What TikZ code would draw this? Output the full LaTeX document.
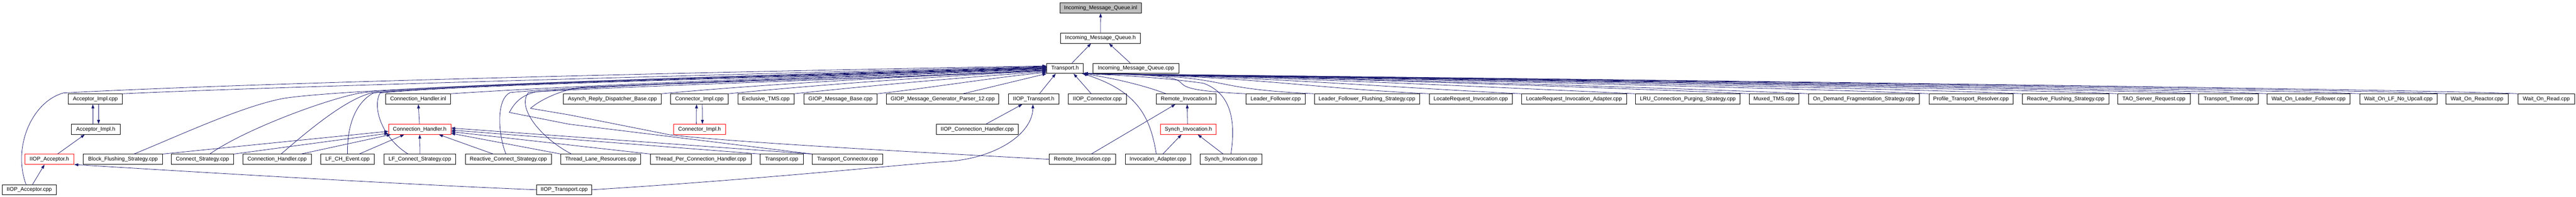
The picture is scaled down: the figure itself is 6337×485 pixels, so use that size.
\documentclass[tikz,border=0pt]{standalone}
\usepackage{fontspec}
\setmainfont{Liberation Sans}
\usetikzlibrary{arrows.meta}
\definecolor{mblue}{HTML}{191970}
\definecolor{boxgray}{HTML}{BFBFBF}
\tikzset{
  box/.style={draw=black, line width=1pt, rectangle, inner sep=0pt, minimum height=25pt,
    font=\fontsize{13.3}{15}\selectfont, fill=white},
  redbox/.style={draw=red},
  graybox/.style={fill=boxgray},
  edge/.style={draw=mblue, line width=1pt, -{Triangle[length=10pt,width=7pt]}},
}
\newcommand{\bx}[6][]{\node[box,#1,minimum width={#4-#3}] (#2) at ({(#3+#4)/2},#5) {#6};}
\begin{document}
\begin{tikzpicture}[x=1pt,y=-1pt]
\fill[white] (0,0) rectangle (6337,485);
\useasboundingbox (0,0) rectangle (6337,485);
% rows 0-2
\bx[graybox]{imqinl}{2607}{2808}{19.7}{Incoming\_Message\_Queue.inl}
\bx{imqh}{2609}{2805}{94}{Incoming\_Message\_Queue.h}
\bx{trh}{2575}{2665}{168.5}{Transport.h}
\bx{imqcpp}{2689}{2900}{168.5}{Incoming\_Message\_Queue.cpp}
% row 3
\bx{acccpp}{168}{301}{244}{Acceptor\_Impl.cpp}
\bx{chinl}{949}{1108}{244}{Connection\_Handler.inl}
\bx{asynch}{1386}{1627}{244}{Asynch\_Reply\_Dispatcher\_Base.cpp}
\bx{conncpp}{1650}{1791}{244}{Connector\_Impl.cpp}
\bx{extms}{1815}{1953}{244}{Exclusive\_TMS.cpp}
\bx{giopbase}{1977}{2158}{244}{GIOP\_Message\_Base.cpp}
\bx{giop12}{2181}{2457}{244}{GIOP\_Message\_Generator\_Parser\_12.cpp}
\bx{iioptrh}{2481}{2605}{244}{IIOP\_Transport.h}
\bx{iiopconn}{2628}{2771}{244}{IIOP\_Connector.cpp}
\bx{remoteinvh}{2845}{2992}{244}{Remote\_Invocation.h}
\bx{lf}{3065}{3211}{244}{Leader\_Follower.cpp}
\bx{lfflush}{3233}{3492}{244}{Leader\_Follower\_Flushing\_Strategy.cpp}
\bx{lri}{3516}{3720}{244}{LocateRequest\_Invocation.cpp}
\bx{lria}{3743}{4001}{244}{LocateRequest\_Invocation\_Adapter.cpp}
\bx{lru}{4023}{4281}{244}{LRU\_Connection\_Purging\_Strategy.cpp}
\bx{muxed}{4303}{4425}{244}{Muxed\_TMS.cpp}
\bx{ondemand}{4449}{4721}{244}{On\_Demand\_Fragmentation\_Strategy.cpp}
\bx{profile}{4745}{4952}{244}{Profile\_Transport\_Resolver.cpp}
\bx{reactflush}{4975}{5188}{244}{Reactive\_Flushing\_Strategy.cpp}
\bx{taosr}{5209}{5388}{244}{TAO\_Server\_Request.cpp}
\bx{ttimer}{5409}{5555}{244}{Transport\_Timer.cpp}
\bx{wolf}{5577}{5781}{244}{Wait\_On\_Leader\_Follower.cpp}
\bx{wolfnu}{5805}{5995}{244}{Wait\_On\_LF\_No\_Upcall.cpp}
\bx{woreactor}{6017}{6170}{244}{Wait\_On\_Reactor.cpp}
\bx{woread}{6194}{6334}{244}{Wait\_On\_Read.cpp}
% row 4
\bx{acch}{175}{296}{318.5}{Acceptor\_Impl.h}
\bx[redbox]{chh}{956}{1109}{318.5}{Connection\_Handler.h}
\bx[redbox]{connimplh}{1657}{1785}{318.5}{Connector\_Impl.h}
\bx{iiopconnh}{2303}{2505}{318.5}{IIOP\_Connection\_Handler.cpp}
\bx[redbox]{synchinvh}{2855}{2992}{318.5}{Synch\_Invocation.h}
% row 5
\bx[redbox]{iiopacch}{61}{182}{392.5}{IIOP\_Acceptor.h}
\bx{blockfl}{205}{400}{392.5}{Block\_Flushing\_Strategy.cpp}
\bx{connstrat}{421}{575}{392.5}{Connect\_Strategy.cpp}
\bx{chcpp}{597}{766}{392.5}{Connection\_Handler.cpp}
\bx{lfchevent}{789}{921}{392.5}{LF\_CH\_Event.cpp}
\bx{lfconnstrat}{945}{1121}{392.5}{LF\_Connect\_Strategy.cpp}
\bx{reactconn}{1145}{1356}{392.5}{Reactive\_Connect\_Strategy.cpp}
\bx{threadlane}{1380}{1576}{392.5}{Thread\_Lane\_Resources.cpp}
\bx{threadper}{1600}{1848}{392.5}{Thread\_Per\_Connection\_Handler.cpp}
\bx{transportcpp}{1870}{1976}{392.5}{Transport.cpp}
\bx{transportconn}{1998}{2172}{392.5}{Transport\_Connector.cpp}
\bx{remoteinvcpp}{2581}{2744}{392.5}{Remote\_Invocation.cpp}
\bx{invadapter}{2768}{2929}{392.5}{Invocation\_Adapter.cpp}
\bx{synchinvcpp}{2952}{3104}{392.5}{Synch\_Invocation.cpp}
% row 6
\bx{iiopacccpp}{5}{139}{467.5}{IIOP\_Acceptor.cpp}
\bx{iioptrcpp}{1320}{1456}{467.5}{IIOP\_Transport.cpp}

% ---------- edges: top
\draw[edge] (imqh) -- (imqinl);
\draw[edge] ([xshift=17pt]trh.north) -- ([xshift=-23pt]imqh.south);
\draw[edge] ([xshift=-14pt]imqcpp.north) -- ([xshift=21pt]imqh.south);

% ---------- edges into Transport.h from the left
\draw[edge] ([xshift=-8pt]iiopacccpp.north) .. controls (30,360) and (80,250) .. (156,229) .. controls (700,200) and (2000,172) .. ([yshift=6pt]trh.west);
\draw[edge] (acccpp.north east) .. controls (700,212) and (2000,178) .. ([yshift=5pt]trh.west);
\draw[edge] ([xshift=27pt]blockfl.north) .. controls (450,330) and (600,260) .. (700,242) .. controls (900,212) and (2000,182) .. ([yshift=4pt]trh.west);
\draw[edge] ([xshift=18pt]connstrat.north) .. controls (600,320) and (800,245) .. (887,229) .. controls (1100,205) and (2000,184) .. ([yshift=3pt]trh.west);
\draw[edge] ([xshift=10pt]chcpp.north) .. controls (760,320) and (850,245) .. (914,229) .. controls (1150,205) and (2000,186) .. ([yshift=2pt]trh.west);
\draw[edge] (lfchevent.north) .. controls (853,320) and (870,255) .. (919,229) .. controls (1150,205) and (2000,188) .. ([yshift=1pt]trh.west);
\draw[edge] ([xshift=-29pt]lfconnstrat.north) .. controls (940,340) and (915,265) .. (935,229) .. controls (1200,205) and (2000,190) .. ([yshift=0pt]trh.west);
\draw[edge] ([xshift=-6pt]reactconn.north) .. controls (1225,330) and (1220,245) .. (1255,228) .. controls (1450,210) and (2000,192) .. ([yshift=-1pt]trh.west);
\draw[edge] ([xshift=-72pt]threadlane.north) .. controls (1330,340) and (1270,265) .. (1300,228) .. controls (1500,208) and (2000,194) .. ([yshift=-2pt]trh.west);
\draw[edge] (chinl.north east) .. controls (1500,205) and (2200,182) .. ([yshift=2pt]trh.west);
\draw[edge] (remoteinvcpp.west) .. controls (2200,372) and (1800,350) .. (1647,332) -- (1400,283) -- (1305,267) .. controls (1330,245) and (1380,222) .. (1430,215) .. controls (1800,200) and (2300,188) .. ([yshift=-3pt]trh.west);
\draw[edge] (transportconn.north west) -- (1400,306) -- (1253,277) .. controls (1265,255) and (1280,235) .. (1320,226) .. controls (1700,205) and (2300,190) .. ([yshift=-4pt]trh.west);
\draw[edge] (asynch.north east) .. controls (1900,205) and (2300,185) .. ([yshift=-5pt]trh.west);
\draw[edge] (conncpp.north east) .. controls (2050,205) and (2350,186) .. ([yshift=-6pt]trh.west);
\draw[edge] (extms.north east) .. controls (2150,210) and (2400,188) .. ([yshift=-8pt]trh.west);
\draw[edge] (giopbase.north east) .. controls (2300,215) and (2450,190) .. ([yshift=-10pt]trh.west);
\draw[edge] ([xshift=50pt]giop12.north) -- (trh.south west);

% ---------- edges into Transport.h from below / right
\draw[edge] ([xshift=14pt]iioptrh.north) -- ([xshift=-23pt]trh.south);
\draw[edge] ([xshift=-15pt]iiopconn.north) -- ([xshift=21pt]trh.south);
\draw[edge] ([xshift=-50pt]remoteinvh.north) .. controls (2800,205) and (2720,190) .. (trh.south east);
\draw[edge] ([xshift=-4pt]invadapter.north) .. controls (2830,290) and (2800,225) .. ([xshift=-2pt]trh.south east);
\draw[edge] (synchinvcpp.north) .. controls (3040,300) and (3030,230) .. (2960,205) .. controls (2850,190) and (2750,185) .. ([xshift=-4pt]trh.south east);
\foreach \n in {lf,lfflush,lri,lria,lru,muxed,ondemand,profile,reactflush,taosr,ttimer,wolf,wolfnu,woreactor,woread}
  \draw[edge] (\n.north west) .. controls +(-300,-14) and +(400,4) .. (trh.south east);

% ---------- Connection_Handler.h
\draw[edge] (chh) -- (chinl);
\draw[edge] (blockfl.north east) -- ([yshift=-5pt]chh.west);
\draw[edge] (connstrat.north east) -- ([yshift=-10pt]chh.west);
\draw[edge] ([xshift=-26pt]chcpp.north east) -- ([xshift=6pt]chh.south west);
\draw[edge] ([xshift=-38pt]lfchevent.north east) -- ([xshift=39pt]chh.south west);
\draw[edge] (lfconnstrat) -- (chh);
\draw[edge] ([xshift=-37pt]reactconn.north) -- ([xshift=-30pt]chh.south east);
\draw[edge] (threadlane.north west) -- ([yshift=-10pt]chh.east);
\draw[edge] (threadper.north west) -- ([yshift=-6pt]chh.east);
\draw[edge] (transportcpp.north west) -- ([yshift=-2pt]chh.east);
\draw[edge] (transportconn.north west) -- ([yshift=3pt]chh.east);

% ---------- Acceptor / Connector impl
\draw[edge] ([xshift=-7pt]acch.north) -- ([xshift=-6pt]acccpp.south);
\draw[edge] ([xshift=8pt]acccpp.south) -- ([xshift=7pt]acch.north);
\draw[edge] ([xshift=-8pt]connimplh.north) -- ([xshift=-7pt]conncpp.south);
\draw[edge] ([xshift=7pt]conncpp.south) -- ([xshift=7pt]connimplh.north);
\draw[edge] ([xshift=20pt]iiopacch.north) -- ([xshift=-27pt]acch.south);
\draw[edge] ([xshift=8pt]iiopacccpp.north) -- ([xshift=-12pt]iiopacch.south);
\draw[edge] (iioptrcpp.west) .. controls (1000,455) and (500,425) .. (iiopacch.south east);
\draw[edge] (iioptrcpp.east) .. controls (1900,440) and (2250,402) .. (2330,398) .. controls (2450,390) and (2540,330) .. ([xshift=-2pt]iioptrh.south);
\draw[edge] ([xshift=22pt]iiopconnh.north) -- ([xshift=-28pt]iioptrh.south);

% ---------- Invocations
\draw[edge] ([xshift=22pt]remoteinvcpp.north) -- ([xshift=-27pt]remoteinvh.south);
\draw[edge] ([xshift=-2pt]synchinvh.north) -- ([xshift=2pt]remoteinvh.south);
\draw[edge] ([xshift=12pt]invadapter.north) -- ([xshift=-17pt]synchinvh.south);
\draw[edge] ([xshift=-19pt]synchinvcpp.north) -- ([xshift=23pt]synchinvh.south);
\end{tikzpicture}
\end{document}
